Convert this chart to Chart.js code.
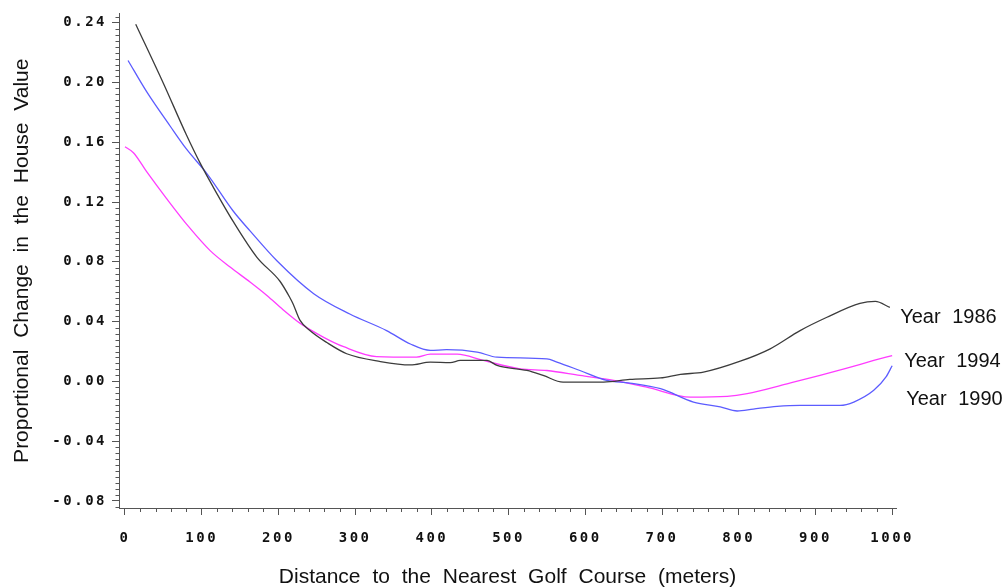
<!DOCTYPE html>
<html>
<head>
<meta charset="utf-8">
<script src="https://cdn.jsdelivr.net/npm/chart.js@4.4.0/dist/chart.umd.min.js"></script>
<style>
html,body{margin:0;padding:0;background:#ffffff;}
#wrap{position:relative;width:1008px;height:587px;}
</style>
</head>
<body>
<div id="wrap"><canvas id="c"></canvas></div>
<script>
// ---- data ----
const xTickValues = [0, 100, 200, 300, 400, 500, 600, 700, 800, 900, 1000];
const xTickLabels = ['0', '100', '200', '300', '400', '500', '600', '700', '800', '900', '1000'];
const yTickValues = [-0.08, -0.04, 0.00, 0.04, 0.08, 0.12, 0.16, 0.20, 0.24];
const yTickLabels = ['-0.08', '-0.04', '0.00', '0.04', '0.08', '0.12', '0.16', '0.20', '0.24'];

const seriesNames = ['Year 1986', 'Year 1990', 'Year 1994'];

const dist1986 = [14, 50, 80, 98, 115, 141, 172, 202, 215, 219, 228, 241, 263, 289, 333, 372, 398, 424, 437, 472, 485, 524, 545, 571, 624, 658, 698, 724, 754, 802, 841, 880, 915, 958, 978, 997];
const value1986 = [0.239, 0.1995, 0.165, 0.146, 0.13, 0.107, 0.083, 0.067, 0.056, 0.052, 0.041, 0.034, 0.026, 0.0185, 0.0133, 0.011, 0.0129, 0.0125, 0.014, 0.014, 0.0107, 0.0073, 0.004, -0.0005, -0.0005, 0.0013, 0.0023, 0.0047, 0.0062, 0.0135, 0.0218, 0.034, 0.0429, 0.0522, 0.0535, 0.0495];

const dist1990 = [4, 28, 59, 80, 107, 141, 163, 198, 246, 293, 341, 372, 398, 419, 459, 485, 550, 563, 593, 628, 658, 698, 741, 776, 798, 819, 850, 880, 932, 950, 976, 992, 1000];
const value1990 = [0.2147, 0.194, 0.1707, 0.1555, 0.1389, 0.114, 0.1007, 0.0807, 0.0587, 0.0451, 0.034, 0.025, 0.0207, 0.0212, 0.0196, 0.0162, 0.0151, 0.0129, 0.0073, 0.0007, -0.0011, -0.0049, -0.0138, -0.0171, -0.0198, -0.0185, -0.0167, -0.016, -0.016, -0.0138, -0.006, 0.003, 0.0105];

const dist1994 = [0, 11, 28, 54, 83, 111, 137, 163, 185, 206, 228, 259, 285, 328, 380, 398, 433, 467, 515, 550, 593, 637, 680, 737, 785, 811, 863, 906, 941, 976, 1000];
const value1994 = [0.157, 0.153, 0.1405, 0.1225, 0.1035, 0.0875, 0.0765, 0.0665, 0.0575, 0.048, 0.039, 0.0295, 0.0232, 0.0166, 0.0162, 0.0182, 0.0182, 0.014, 0.0084, 0.0073, 0.004, 0.0007, -0.0038, -0.0105, -0.01, -0.0082, -0.0016, 0.004, 0.0089, 0.014, 0.0173];

const xTitle = 'Distance to the Nearest Golf Course (meters)';
const yTitle = 'Proportional Change in the House Value';

// ---- styling / layout (kept separate from the data) ----
const colors = {'Year 1986': '#3c3c3c', 'Year 1990': '#5c5cff', 'Year 1994': '#ff3cff'};
const axisColor = '#555555';
const textColor = '#111111';
const labelAnchor = { // [value-space y of text baseline, pixel gap right of x=1000]
  'Year 1986': [0.0393, 8],
  'Year 1994': [0.0095, 12],
  'Year 1990': [-0.016, 14]
};

function pairs(xs, ys) { return xs.map((x, i) => ({x: x, y: ys[i]})); }

const seriesData = {
  'Year 1986': pairs(dist1986, value1986),
  'Year 1990': pairs(dist1990, value1990),
  'Year 1994': pairs(dist1994, value1994)
};

const tickFont = {family: '"DejaVu Sans Mono", monospace', size: 14, weight: 'bold'};

const decor = {
  id: 'decor',
  beforeDraw(chart) { chart.ctx.letterSpacing = '2.5px'; },
  afterDraw(chart) {
    const ctx = chart.ctx, xs = chart.scales.x, ys = chart.scales.y, a = chart.chartArea;
    ctx.save();
    ctx.letterSpacing = '0px';
    ctx.strokeStyle = axisColor;
    ctx.lineWidth = 1;
    ctx.beginPath();
    for (let k = -21; k <= 61; k++) {
      if (k % 10 === 0) continue;
      const py = Math.round(ys.getPixelForValue(k * 0.004)) + 0.5;
      if (py < a.top || py > a.bottom) continue;
      ctx.moveTo(a.left - 3.5, py); ctx.lineTo(a.left, py);
    }
    for (let k = 0; k <= 50; k++) {
      if (k % 5 === 0) continue;
      const px = Math.round(xs.getPixelForValue(k * 20)) + 0.5;
      ctx.moveTo(px, a.bottom); ctx.lineTo(px, a.bottom + 4);
    }
    ctx.stroke();

    ctx.fillStyle = textColor;
    try { ctx.wordSpacing = '6px'; } catch (e) {}
    ctx.font = '21px "Liberation Sans", Arial, sans-serif';
    ctx.textAlign = 'center';
    ctx.textBaseline = 'middle';
    ctx.fillText(xTitle, (a.left + a.right) / 2, 577);
    ctx.save();
    ctx.translate(22, (a.top + a.bottom) / 2);
    ctx.rotate(-Math.PI / 2);
    ctx.fillText(yTitle, 0, 0);
    ctx.restore();

    ctx.font = '20px "Liberation Sans", Arial, sans-serif';
    ctx.textAlign = 'left';
    ctx.textBaseline = 'alphabetic';
    const xEnd = xs.getPixelForValue(1000);
    seriesNames.forEach(n => {
      const an = labelAnchor[n];
      ctx.fillText(n, xEnd + an[1], ys.getPixelForValue(an[0]));
    });
    ctx.restore();
  }
};

new Chart(document.getElementById('c'), {
  type: 'line',
  data: {
    datasets: seriesNames.map(n => ({
      label: n,
      data: seriesData[n],
      borderColor: colors[n],
      borderWidth: 1.3,
      pointRadius: 0,
      fill: false,
      cubicInterpolationMode: 'monotone'
    }))
  },
  options: {
    responsive: true,
    maintainAspectRatio: false,
    animation: false,
    layout: {padding: {left: 0, right: 112, top: 12, bottom: 0}},
    plugins: {legend: {display: false}, tooltip: {enabled: false}},
    scales: {
      x: {
        type: 'linear',
        min: -7.8,
        max: 1005,
        afterBuildTicks: s => { s.ticks = xTickValues.map(v => ({value: v})); },
        afterFit: s => { s.height = 79; },
        ticks: {autoSkip: false, maxRotation: 0, minRotation: 0, padding: 15, color: textColor, font: tickFont,
                callback: (v, i) => xTickLabels[i]},
        grid: {drawOnChartArea: false, drawTicks: true, tickLength: 7, tickColor: axisColor, tickWidth: 1},
        border: {display: true, color: axisColor, width: 1}
      },
      y: {
        type: 'linear',
        min: -0.0847,
        max: 0.2462,
        afterBuildTicks: s => { s.ticks = yTickValues.map(v => ({value: v})); },
        afterFit: s => { s.width = 119; },
        ticks: {autoSkip: false, padding: 5, color: textColor, font: tickFont,
                callback: (v, i) => yTickLabels[i]},
        grid: {drawOnChartArea: false, drawTicks: true, tickLength: 7, tickColor: axisColor, tickWidth: 1},
        border: {display: true, color: axisColor, width: 1}
      }
    }
  },
  plugins: [decor]
});
</script>
</body>
</html>
